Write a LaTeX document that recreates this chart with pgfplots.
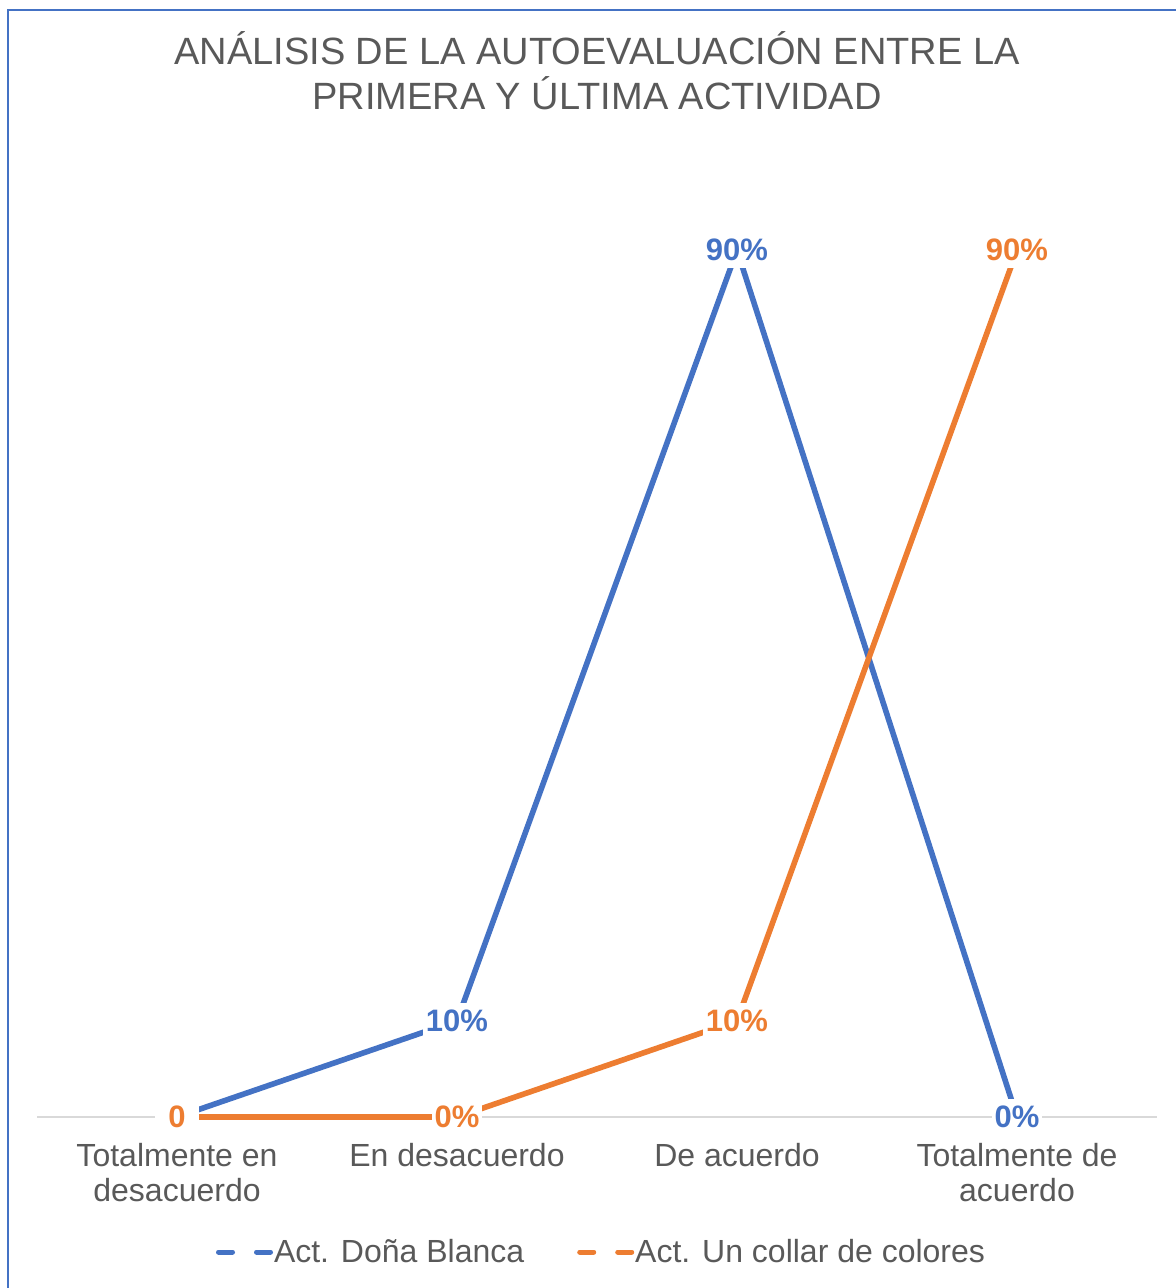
\documentclass[border=0pt]{standalone}
\usepackage{fontspec}
\setmainfont{Liberation Sans}
\usepackage{pgfplots}
\pgfplotsset{compat=1.18}

\definecolor{cblue}{HTML}{4472C4}
\definecolor{corange}{HTML}{ED7D31}
\definecolor{txtgray}{HTML}{595959}
\definecolor{axisgray}{HTML}{D9D9D9}

\begin{document}
\begin{tikzpicture}
\useasboundingbox (0,0) rectangle (587.5pt,644pt);
% chart frame (only left and top edges visible)
\draw[cblue, line width=1pt] (4pt,0) -- (4pt,639pt) -- (590pt,639pt);

\node[anchor=base, text=txtgray, font=\fontsize{19}{22}\selectfont, inner sep=0pt]
  at (298.5pt,611.5pt) {ANÁLISIS DE LA AUTOEVALUACIÓN ENTRE LA};
\node[anchor=base, text=txtgray, font=\fontsize{19}{22}\selectfont, inner sep=0pt]
  at (298.5pt,589pt) {PRIMERA Y ÚLTIMA ACTIVIDAD};

\begin{axis}[
    at={(18.5pt,85.5pt)}, anchor=south west,
    scale only axis,
    width=560pt, height=481.5pt,
    xmin=-0.5, xmax=3.5, ymin=0, ymax=1,
    axis y line=none,
    axis x line=bottom,
    x axis line style={draw=axisgray, line width=0.75pt, -},
    xtick={0,1,2,3},
    xticklabels={Totalmente en\\desacuerdo, En desacuerdo, De acuerdo, Totalmente de\\acuerdo},
    major tick length=0pt,
    xticklabel style={align=center, inner sep=0pt, text=txtgray,
      font=\fontsize{16}{17.5}\selectfont, anchor=north, yshift=-13pt},
    clip=false,
    point meta=explicit symbolic,
    nodes near coords,
    every node near coord/.append style={anchor=center, fill=white,
      inner xsep=1.5pt, inner ysep=3.5pt,
      font=\bfseries\fontsize{15.5}{18}\selectfont},
    legend columns=2,
    legend style={at={(0.5,0)}, anchor=center, xshift=2pt, yshift=-67.5pt, draw=none,
      fill=none, font=\fontsize{16}{18}\selectfont, text=txtgray,
      nodes={inner sep=0.5pt},
      /tikz/every even column/.append style={column sep=26pt}},
    legend image code/.code={
      \draw[#1, line width=2.5pt, line cap=round, dash pattern=on 7pt off 12pt]
        (1.25pt,0) -- (27.25pt,0);},
]
\addplot[cblue, line width=2.8pt, line join=round,
  every node near coord/.append style={text=cblue}]
  coordinates {(0,0) [0] (1,0.1) [10\%] (2,0.9) [90\%] (3,0) [0\%]};
\addlegendentry{Act. Doña Blanca}
\addplot[corange, line width=2.8pt, line join=round,
  every node near coord/.append style={text=corange}]
  coordinates {(0,0) [\kern5pt 0\kern5pt] (1,0) [0\%] (2,0.1) [10\%] (3,0.9) [90\%]};
\addlegendentry{Act. Un collar de colores}
\end{axis}
\end{tikzpicture}
\end{document}
